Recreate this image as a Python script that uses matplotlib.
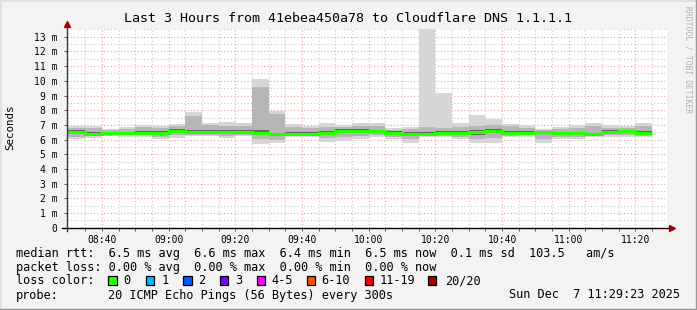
import matplotlib
matplotlib.use("Agg")
import matplotlib.pyplot as plt
import numpy as np
from matplotlib.patches import Rectangle

# ---------------- data ----------------
chart_start = "08:29:23"
chart_end = "11:29:23"

# end time of each 5-minute smoke slot
slot_end = ["08:35", "08:40", "08:45", "08:50", "08:55", "09:00", "09:05",
            "09:10", "09:15", "09:20", "09:25", "09:30", "09:35", "09:40",
            "09:45", "09:50", "09:55", "10:00", "10:05", "10:10", "10:15",
            "10:20", "10:25", "10:30", "10:35", "10:40", "10:45", "10:50",
            "10:55", "11:00", "11:05", "11:10", "11:15", "11:20", "11:25"]

# median rtt per slot (ms)
median_ms = [6.50, 6.38, 6.42, 6.42, 6.48, 6.45, 6.60, 6.51, 6.50, 6.50,
             6.51, 6.47, 6.36, 6.40, 6.38, 6.45, 6.60, 6.60, 6.56, 6.45,
             6.37, 6.37, 6.47, 6.45, 6.49, 6.60, 6.45, 6.45, 6.49, 6.43,
             6.43, 6.36, 6.51, 6.56, 6.45]

# extreme pings (outer smoke)
max_ms = [6.92, 6.92, 6.72, 6.83, 7.01, 6.92, 7.06, 7.88, 7.15, 7.20,
          7.10, 10.10, 7.96, 7.06, 6.92, 7.10, 7.00, 7.10, 7.10, 6.77,
          6.88, 13.60, 9.17, 7.10, 7.67, 7.40, 7.06, 6.99, 6.74, 6.88,
          6.99, 7.15, 6.97, 6.93, 7.15]
min_ms = [6.04, 6.10, 6.24, 6.20, 6.20, 6.06, 6.13, 6.24, 6.24, 6.10,
          6.24, 5.68, 5.79, 6.20, 6.15, 5.83, 5.92, 6.06, 6.20, 6.02,
          5.79, 6.15, 6.15, 6.02, 5.79, 5.79, 6.15, 6.20, 5.79, 6.02,
          6.02, 6.20, 6.20, 6.20, 6.15]

# middle smoke band
band_hi = [6.82, 6.80, 6.62, 6.72, 6.85, 6.80, 6.92, 7.60, 6.98, 6.95,
           6.90, 9.56, 7.74, 6.88, 6.78, 6.85, 6.88, 6.92, 6.90, 6.68,
           6.75, 6.85, 6.80, 6.88, 6.95, 6.98, 6.90, 6.82, 6.68, 6.75,
           6.82, 6.90, 6.82, 6.80, 6.92]
band_lo = [6.20, 6.22, 6.30, 6.28, 6.28, 6.20, 6.30, 6.32, 6.32, 6.25,
           6.32, 6.05, 6.00, 6.28, 6.25, 6.10, 6.15, 6.25, 6.30, 6.18,
           6.05, 6.22, 6.25, 6.20, 6.05, 6.10, 6.22, 6.28, 6.05, 6.18,
           6.20, 6.25, 6.30, 6.30, 6.25]

# dark core band
core_hi = [6.62, 6.50, 6.52, 6.54, 6.60, 6.57, 6.75, 6.68, 6.64, 6.63,
           6.62, 6.62, 6.48, 6.52, 6.50, 6.58, 6.72, 6.74, 6.68, 6.56,
           6.50, 6.50, 6.60, 6.56, 6.62, 6.74, 6.58, 6.56, 6.60, 6.54,
           6.55, 6.48, 6.64, 6.68, 6.57]
core_lo = [6.36, 6.25, 6.33, 6.32, 6.36, 6.34, 6.46, 6.38, 6.38, 6.36,
           6.40, 6.34, 6.22, 6.30, 6.28, 6.30, 6.44, 6.45, 6.45, 6.33,
           6.22, 6.24, 6.36, 6.32, 6.34, 6.44, 6.32, 6.34, 6.36, 6.30,
           6.31, 6.22, 6.40, 6.44, 6.33]

x_major_labels = ["08:40", "09:00", "09:20", "09:40", "10:00", "10:20",
                  "10:40", "11:00", "11:20"]
y_max_ms = 13.55
y_tick_values = list(range(0, 14))

loss_labels = ["0", "1", "2", "3", "4-5", "6-10", "11-19", "20/20"]
loss_colors = ["#26ff00", "#00b8ff", "#0059ff", "#7e00ff", "#ff00ff",
               "#ff5500", "#ff0000", "#a10000"]

title = "Last 3 Hours from 41ebea450a78 to Cloudflare DNS 1.1.1.1"
line_rtt = "median rtt:  6.5 ms avg  6.6 ms max  6.4 ms min  6.5 ms now  0.1 ms sd  103.5   am/s"
line_loss = "packet loss: 0.00 % avg  0.00 % max  0.00 % min  0.00 % now"
probe_text = "20 ICMP Echo Pings (56 Bytes) every 300s"
date_text = "Sun Dec  7 11:29:23 2025"


# ---------------- helpers ----------------
def tmin(s):
    p = [int(v) for v in s.split(":")]
    while len(p) < 3:
        p.append(0)
    return p[0] * 60 + p[1] + p[2] / 60.0


W, H = 697, 310
MONO = "DejaVu Sans Mono"


def fx(px):
    return px / W


def fy(py):
    return 1 - py / H


fig = plt.figure(figsize=(W / 100, H / 100), dpi=100, facecolor="#f3f3f3")

ax_l, ax_r, ax_t, ax_b = 66.7, 666.7, 28.7, 227.7
ax = fig.add_axes([fx(ax_l), fy(ax_b), (ax_r - ax_l) / W, (ax_b - ax_t) / H])
ax.set_facecolor("white")

x0, x1 = tmin(chart_start), tmin(chart_end)
ax.set_xlim(x0, x1)
ax.set_ylim(0, y_max_ms)

ends = np.array([tmin(s) for s in slot_end])
edges = np.concatenate([[x0], ends])

# smoke
ax.stairs(max_ms, edges, baseline=min_ms, fill=True, color="#d6d6d6", lw=0, zorder=2)
ax.stairs(band_hi, edges, baseline=band_lo, fill=True, color="#b6b6b6", lw=0, zorder=3)
ax.stairs(core_hi, edges, baseline=core_lo, fill=True, color="#646464", lw=0, zorder=4)
ax.stairs(median_ms, edges, baseline=None, color=loss_colors[0], lw=2.2, zorder=5)

# grid
ax.set_axisbelow(True)
ax.set_yticks(y_tick_values)
ax.set_yticklabels(["0" if v == 0 else f"{v} m" for v in y_tick_values],
                   fontfamily=MONO, fontsize=7)
ax.set_yticks(np.arange(0.5, y_max_ms, 1.0), minor=True)
xt = [tmin(s) for s in x_major_labels]
ax.set_xticks(xt)
ax.set_xticklabels(x_major_labels, fontfamily=MONO, fontsize=7)
ax.set_xticks(np.arange(tmin("08:35"), x1, 5.0), minor=True)

ax.grid(which="major", color="#f0a0a0", lw=0.8, ls=(0, (1, 2)))
ax.grid(which="minor", color="#c8c8c8", lw=0.8, ls=(0, (1, 2)))
ax.tick_params(which="both", direction="out", length=2.5, width=0.7,
               color="#555555", pad=3)
ax.tick_params(axis="y", which="minor", length=0)
ax.tick_params(axis="y", which="major", pad=4)
for sp in ax.spines.values():
    sp.set_visible(False)

# axes lines with arrows
ax.plot([-5 / 600, 1.006], [0, 0], transform=ax.transAxes, color="black",
        lw=1.0, clip_on=False, zorder=6)
ax.plot([0, 0], [-3 / 199, 1.02], transform=ax.transAxes, color="#333333",
        lw=1.0, clip_on=False, zorder=6)
ax.plot([1.008], [0], marker=">", ms=4.5, color="#a00000", mec="#a00000",
        transform=ax.transAxes, clip_on=False, zorder=7)
ax.plot([0], [1.026], marker="^", ms=4.5, color="#a00000", mec="#a00000",
        transform=ax.transAxes, clip_on=False, zorder=7)

# titles / labels
fig.text(fx(348), fy(18), title, fontfamily=MONO, fontsize=9.6,
         ha="center", va="center", color="black")
fig.text(fx(10), fy(127), "Seconds", fontfamily=MONO, fontsize=7.8,
         rotation=90, ha="center", va="center")
fig.text(fx(688), fy(60), "RRDTOOL / TOBI OETIKER", fontfamily=MONO,
         fontsize=5.8, rotation=270, ha="center", va="center", color="#b0b0b0")

# legend rows
fs = 8.6
fig.text(fx(16), fy(254), line_rtt, fontfamily=MONO, fontsize=fs, va="center")
fig.text(fx(16), fy(268), line_loss, fontfamily=MONO, fontsize=fs, va="center")
fig.text(fx(16), fy(281), "loss color:", fontfamily=MONO, fontsize=fs, va="center")
box_x = [108.0, 145.5, 183.0, 219.8, 256.5, 306.5, 364.8, 428.0]
lab_x = [123.3, 161.7, 198.0, 235.0, 271.7, 321.7, 380.0, 445.0]
for bx, lx, lab, col in zip(box_x, lab_x, loss_labels, loss_colors):
    fig.add_artist(Rectangle((fx(bx), fy(284.5)), 8.5 / W, 8.5 / H,
                             transform=fig.transFigure, facecolor=col,
                             edgecolor="black", lw=0.9))
    fig.text(fx(lx), fy(281), lab, fontfamily=MONO, fontsize=fs, va="center")
fig.text(fx(16), fy(295), "probe:", fontfamily=MONO, fontsize=fs, va="center")
fig.text(fx(107.5), fy(295), probe_text, fontfamily=MONO, fontsize=fs, va="center")
fig.text(fx(680), fy(295), date_text, fontfamily=MONO, fontsize=fs,
         va="center", ha="right")

# outer frame
fig.add_artist(plt.Line2D([0, 0], [0, 1], transform=fig.transFigure,
                          color="#e0e0e0", lw=2))
fig.add_artist(plt.Line2D([0, 1], [1, 1], transform=fig.transFigure,
                          color="#e0e0e0", lw=2))
fig.add_artist(plt.Line2D([1, 1], [0, 1], transform=fig.transFigure,
                          color="#9a9a9a", lw=2.5))
fig.add_artist(plt.Line2D([0, 1], [0, 0], transform=fig.transFigure,
                          color="#9a9a9a", lw=2.5))

fig.savefig("out.png", dpi=100, facecolor=fig.get_facecolor())
